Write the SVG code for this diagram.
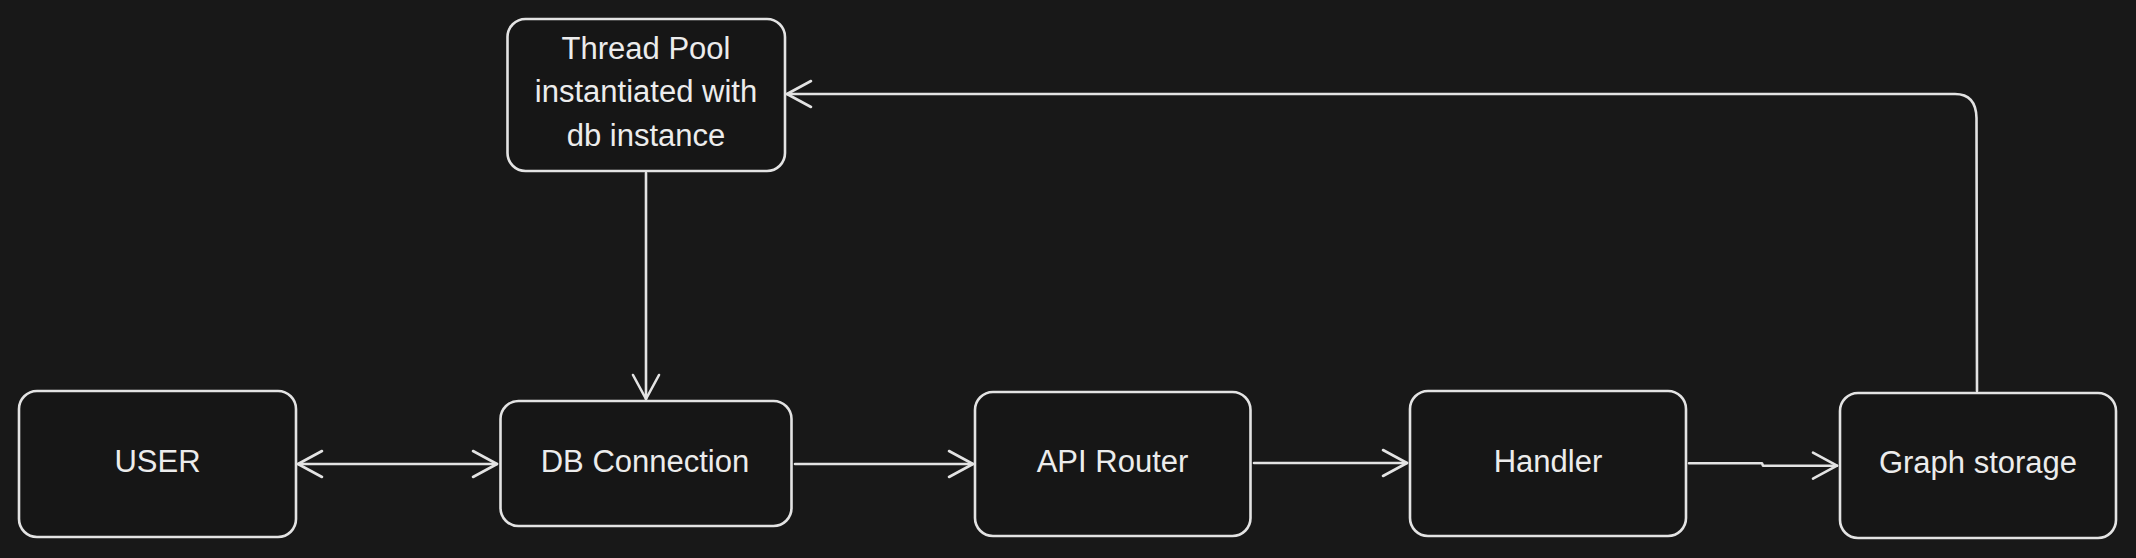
<svg xmlns="http://www.w3.org/2000/svg" width="2136" height="558" viewBox="0 0 2136 558">
  <style>
    .box { fill: #161616; stroke: #e3e3e3; stroke-width: 2.6; }
    .lbl { font-family: "Liberation Sans", Arial, sans-serif; font-size: 31px; fill: #ececec; text-anchor: middle; }
    .edge { fill: none; stroke: #e3e3e3; stroke-width: 2.6; stroke-linecap: round; stroke-linejoin: round; }
  </style>
  <defs>
    <marker id="arr" viewBox="-27 -16 30 32" refX="0" refY="0" markerWidth="30" markerHeight="32" markerUnits="userSpaceOnUse" orient="auto-start-reverse">
      <path d="M-24,-13 L0,0 L-24,13" fill="none" stroke="#e3e3e3" stroke-width="2.6" stroke-linecap="round" stroke-linejoin="round"/>
    </marker>
  </defs>
  <rect width="2136" height="558" fill="#181818"/>

  <g id="connectors">
    <path id="user-db" class="edge" d="M298,464 L497,464" marker-start="url(#arr)" marker-end="url(#arr)"/>
    <path id="pool-db" class="edge" d="M646,173 L646,399" marker-end="url(#arr)"/>
    <path id="db-api" class="edge" d="M795,464 L973,464" marker-end="url(#arr)"/>
    <path id="api-handler" class="edge" d="M1254,463 L1407,463" marker-end="url(#arr)"/>
    <path id="handler-graph" class="edge" d="M1689,463.3 L1762,463.3 L1763,465.7 L1837,465.7" marker-end="url(#arr)"/>
    <path id="graph-pool" class="edge" d="M1977,391 L1976.5,118 Q1976,94 1955,94 L787,94" marker-end="url(#arr)"/>
  </g>

  <g id="node-threadpool">
    <rect class="box" x="507.5" y="19" width="277.5" height="152" rx="18"/>
    <text class="lbl" x="646" y="58.5">Thread Pool</text>
    <text class="lbl" x="646" y="102">instantiated with</text>
    <text class="lbl" x="646" y="145.5">db instance</text>
  </g>
  <g id="node-user">
    <rect class="box" x="19" y="391" width="277" height="146" rx="18"/>
    <text class="lbl" x="157.5" y="471.5">USER</text>
  </g>
  <g id="node-db">
    <rect class="box" x="500.5" y="401" width="291" height="125" rx="18"/>
    <text class="lbl" x="645" y="471.5">DB Connection</text>
  </g>
  <g id="node-api">
    <rect class="box" x="975" y="392" width="275.5" height="144" rx="18"/>
    <text class="lbl" x="1112.5" y="471.5">API Router</text>
  </g>
  <g id="node-handler">
    <rect class="box" x="1410" y="391" width="276" height="145" rx="18"/>
    <text class="lbl" x="1548" y="471.5">Handler</text>
  </g>
  <g id="node-graph">
    <rect class="box" x="1840" y="393" width="276" height="145" rx="18"/>
    <text class="lbl" x="1978" y="473">Graph storage</text>
  </g>
</svg>
